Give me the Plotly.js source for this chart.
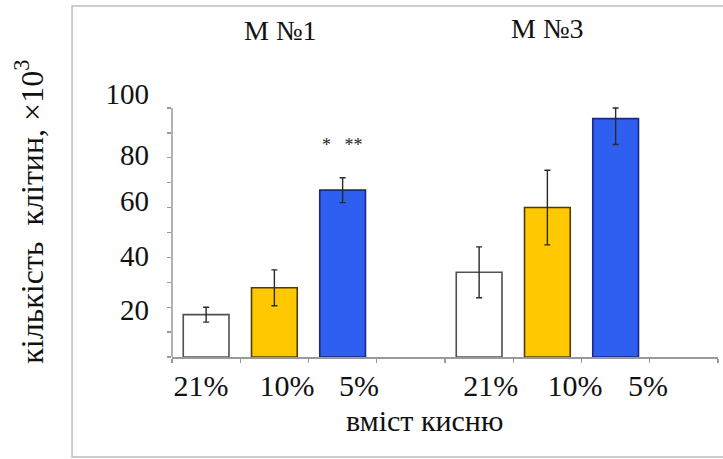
<!DOCTYPE html>
<html>
<head>
<meta charset="utf-8">
<script src="https://cdn.plot.ly/plotly-3.0.1.min.js"></script>
<style>html,body{margin:0;padding:0;background:#fff;}#chart{width:723px;height:459px;}</style>
</head>
<body>
<div id="chart"></div>
<script>
// ---- data ----
const groups = ['M №1', 'M №3'];
const oxygenLevels = ['21%', '10%', '5%'];
const cells21 = [17.0, 34.0];
const cells10 = [27.8, 60.0];
const cells5 = [67.0, 95.7];
const errPlus21 = [3.0, 10.2];
const errMinus21 = [3.0, 10.2];
const errPlus10 = [7.2, 15.0];
const errMinus10 = [7.2, 15.0];
const errPlus5 = [5.0, 4.3];
const errMinus5 = [5.0, 10.4];
const significance = ['*   **', '** #'];
const yTickLabels = ['20', '40', '60', '80', '100'];
const yTitle = 'кількість\u00a0 клітин, ×10<sup>3</sup>';
const xTitle = 'вміст кисню';

// ---- styling ----
const FONT = 'Liberation Serif';
const slotsPerGroup = oxygenLevels.length + 1;
const xPos = (g, c) => g * slotsPerGroup + c;

const series = [
  {y: cells21, ep: errPlus21, em: errMinus21, fill: '#ffffff', line: '#505050'},
  {y: cells10, ep: errPlus10, em: errMinus10, fill: '#ffc800', line: '#4d3e00'},
  {y: cells5, ep: errPlus5, em: errMinus5, fill: '#2f5ff0', line: '#182a86'}
];

const traces = series.map((s, c) => ({
  type: 'bar',
  name: oxygenLevels[c],
  x: groups.map((g, gi) => xPos(gi, c)),
  y: s.y,
  width: 0.67,
  marker: {color: s.fill, line: {color: s.line, width: 1.6}},
  error_y: {type: 'data', symmetric: false, array: s.ep, arrayminus: s.em,
            color: '#2a2a2a', thickness: 1.4, width: 3},
  hoverinfo: 'x+y',
  showlegend: false
}));

// tick label positions (as in the reference, slightly shifted from the bars)
const xLabelShift = [[-0.075, 0.185, 0.24], [0.17, 0.405, 0.475]];
const xTickVals = [], xTickText = [];
groups.forEach((g, gi) => oxygenLevels.forEach((o, c) => {
  xTickVals.push(xPos(gi, c) + xLabelShift[gi][c]);
  xTickText.push(o);
}));
const yTickVals = [18.8, 40.8, 62.5, 81, 105.5];

const annotations = [
  {text: groups[0], xref: 'paper', yref: 'paper', x: 0.198, y: 1.235, showarrow: false,
   xanchor: 'center', yanchor: 'middle', font: {family: FONT, size: 28, color: '#111'}},
  {text: groups[1], xref: 'paper', yref: 'paper', x: 0.687, y: 1.245, showarrow: false,
   xanchor: 'center', yanchor: 'middle', font: {family: FONT, size: 28, color: '#111'}},
  {text: significance[0], xref: 'x', yref: 'y', x: xPos(0, 2), y: 85, showarrow: false,
   xanchor: 'center', yanchor: 'middle', font: {family: FONT, size: 18, color: '#222'}},
  {text: significance[1], xref: 'x', yref: 'y', x: xPos(1, 2), y: 112, showarrow: false,
   xanchor: 'center', yanchor: 'middle', font: {family: FONT, size: 18, color: '#222'}},
  {text: xTitle, xref: 'paper', yref: 'paper', x: 0.463, y: -0.24, showarrow: false,
   xanchor: 'center', yanchor: 'middle', font: {family: FONT, size: 30, color: '#111'}},
  {text: yTitle, xref: 'paper', yref: 'paper', x: -0.262, y: 0.55, showarrow: false,
   textangle: -90, xanchor: 'center', yanchor: 'middle', font: {family: FONT, size: 32, color: '#111'}}
];

const layout = {
  width: 723, height: 459,
  margin: {l: 172, r: 5, t: 93, b: 102},
  paper_bgcolor: '#ffffff', plot_bgcolor: '#ffffff',
  barmode: 'overlay',
  font: {family: FONT, color: '#111'},
  xaxis: {
    range: [-0.5, 2 * slotsPerGroup - 0.5], showgrid: false, zeroline: false,
    showline: true, linecolor: '#9a9a9a', linewidth: 1.5,
    tickmode: 'array', tickvals: xTickVals, ticktext: xTickText, ticks: '',
    ticklabelstandoff: 1,
    tickfont: {family: FONT, size: 30, color: '#111'},
    minor: {tick0: -0.5, dtick: 1, ticks: 'outside', ticklen: 4, tickcolor: '#9a9a9a', tickwidth: 1.3, showgrid: false},
    fixedrange: true
  },
  yaxis: {
    range: [0, 106], showgrid: false, zeroline: false, showline: false,
    tickmode: 'array', tickvals: yTickVals, ticktext: yTickLabels, ticks: '',
    ticklabelstandoff: 22,
    tickfont: {family: FONT, size: 29, color: '#111'},
    minor: {tick0: 0, dtick: 10, ticks: 'outside', ticklen: 4, tickcolor: '#9a9a9a', tickwidth: 1.3, showgrid: false},
    fixedrange: true
  },
  shapes: [
    {type: 'line', xref: 'paper', yref: 'y', x0: 0, x1: 0, y0: 0, y1: 100,
     line: {color: '#9a9a9a', width: 1.5}},
    {type: 'rect', xref: 'paper', yref: 'paper', x0: -0.183, x1: 1.02, y0: -0.379, y1: 1.33,
     line: {color: '#bdbdbd', width: 1.5}, fillcolor: 'rgba(0,0,0,0)', layer: 'below'}
  ],
  annotations: annotations
};

Plotly.newPlot('chart', traces, layout, {displayModeBar: false, staticPlot: true});
</script>
</body>
</html>
